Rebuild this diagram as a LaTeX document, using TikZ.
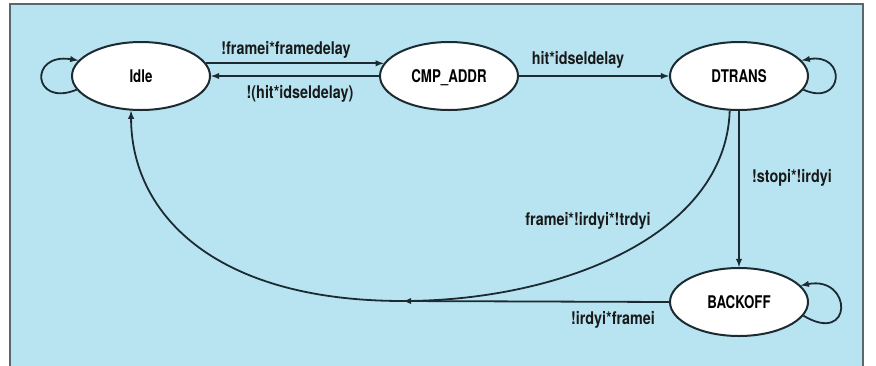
\documentclass[tikz,border=0pt]{standalone}
\usepackage{fontspec}
\usepackage{tikz}
\usepackage{xcolor}
\usetikzlibrary{positioning,shapes,arrows}
\setmainfont{TeX Gyre Heros}
\newfontfamily\statefont[FakeStretch=0.76]{TeX Gyre Heros}
\newfontfamily\condfont[FakeStretch=0.82]{TeX Gyre Heros}
\definecolor{panel}{RGB}{184,228,241}
\definecolor{ink}{RGB}{28,42,50}
\definecolor{rim}{RGB}{90,104,110}

\begin{document}
\begin{tikzpicture}[x=1pt,y=-1pt,>=latex]
\tikzstyle{every node}+=[inner sep=0pt]
\tikzstyle{fsmstate}=[ellipse,draw=ink,line width=2pt,fill=white,minimum width=138pt,minimum height=68pt,text depth=0pt,font=\statefont\bfseries\fontsize{17.5}{20}\selectfont,text=black]
\tikzstyle{trans}=[draw=ink,line width=1.8pt]
\tikzstyle{cond}=[anchor=base,font=\condfont\bfseries\fontsize{17.5}{20}\selectfont,text=black!90]
\useasboundingbox (0,0) rectangle (876,365);
\draw [rim,fill=panel,line width=2.2pt] (10,4) rectangle (863,380);
\node [fsmstate] (idle) at (141,76) {Idle};
\node [fsmstate] (cmp) at (449,76) {CMP\_ADDR};
\node [fsmstate] (dtrans) at (739,76) {DTRANS};
\node [fsmstate] (backoff) at (739,302) {BACKOFF};
\coordinate (join) at (403,301);
\draw [trans,->] (idle.11) -- (cmp.169);
\draw [trans,->] (cmp.west) -- (idle.east);
\draw [trans,->] (cmp.east) -- (dtrans.west);
\draw [trans,->] (idle.192) .. controls +(-44,18) and +(-50,-8) .. (idle.166);
\draw [trans,->] (dtrans.-12) .. controls +(40,18) and +(46,-8) .. (dtrans.14);
\draw [trans,->] (backoff.-12) .. controls +(50,30) and +(52,-10) .. (backoff.15);
\draw [trans,->] (dtrans.south) -- (backoff.north);
\draw [trans] (dtrans.255) .. controls +(-4,125) and +(157,0) .. (join);
\draw [trans,->] (backoff.west) -- (join);
\draw [trans,->] (join) .. controls +(-193,0) and +(0,100) .. (idle.254);
\node [cond] (c1) at (286,54) {!framei*framedelay};
\node [cond] (c2) at (300,98) {!(hit*idseldelay)};
\node [cond] (c3) at (578,64) {hit*idseldelay};
\node [cond,anchor=base west] (c4) at (752,182) {!stopi*!irdyi};
\node [cond] (c5) at (588,225) {framei*!irdyi*!trdyi};
\node [cond] (c6) at (613,324) {!irdyi*framei};
\end{tikzpicture}
\end{document}
